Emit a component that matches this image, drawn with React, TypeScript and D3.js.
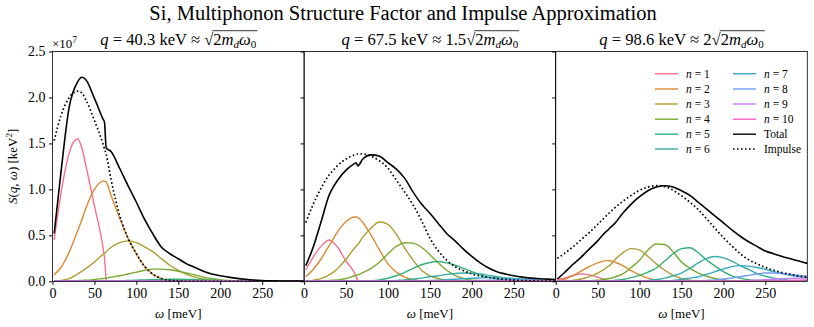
import { useEffect, useRef } from 'react';
import * as d3 from 'd3';

// energy grid (meV) shared by every curve
const OMEGA = [2, 10, 20, 30, 35, 40, 50, 60, 62, 64, 70, 80, 90, 100, 110, 120, 130, 140, 150, 160, 170, 180, 190, 200, 210, 220, 230, 240, 250, 260, 270, 280, 290, 300];
const N = null;

// values in units of 1e7 keV^2
// panel 1: q = 40.3 keV
const p1n1 = [0.45, 0.95, 1.40, 1.55, 1.45, 1.25, 0.82, 0.38, 0.25, 0, N, N, N, N, N, N, N, N, N, N, N, N, N, N, N, N, N, N, N, N, N, N, N, N];
const p1n2 = [0.07, 0.15, 0.32, 0.55, 0.67, 0.80, 1.00, 1.09, 1.09, 1.08, 0.93, 0.69, 0.47, 0.30, 0.16, 0.075, 0.03, 0.01, 0.003, 0, 0, 0, 0, 0, 0, 0, 0, 0, 0, 0, 0, 0, 0, 0];
const p1n3 = [0, 0.01, 0.03, 0.08, 0.11, 0.14, 0.21, 0.29, 0.30, 0.32, 0.37, 0.42, 0.44, 0.42, 0.375, 0.32, 0.245, 0.175, 0.12, 0.075, 0.045, 0.025, 0.012, 0.005, 0.002, 0, 0, 0, 0, 0, 0, 0, 0, 0];
const p1n4 = [0, 0, 0.003, 0.007, 0.01, 0.012, 0.02, 0.03, 0.032, 0.035, 0.045, 0.06, 0.08, 0.10, 0.12, 0.132, 0.133, 0.125, 0.11, 0.09, 0.07, 0.045, 0.03, 0.015, 0.008, 0.004, 0.002, 0, 0, 0, 0, 0, 0, 0];
const p1n5 = [0, 0, 0, 0, 0, 0.001, 0.002, 0.003, 0.003, 0.004, 0.005, 0.007, 0.009, 0.012, 0.015, 0.018, 0.02, 0.022, 0.022, 0.021, 0.019, 0.016, 0.013, 0.01, 0.007, 0.005, 0.003, 0.002, 0.001, 0, 0, 0, 0, 0];
const p1n6 = [0, 0, 0, 0, 0, 0, 0, 0, 0, 0, 0, 0, 0, 0.001, 0.002, 0.003, 0.004, 0.005, 0.006, 0.007, 0.007, 0.007, 0.006, 0.005, 0.004, 0.003, 0.002, 0.002, 0.001, 0.001, 0, 0, 0, 0];
const p1n7 = [0, 0, 0, 0, 0, 0, 0, 0, 0, 0, 0, 0, 0, 0, 0, 0, 0, 0.001, 0.001, 0.002, 0.002, 0.002, 0.002, 0.002, 0.002, 0.001, 0.001, 0.001, 0, 0, 0, 0, 0, 0];
const p1n8 = [0, 0, 0, 0, 0, 0, 0, 0, 0, 0, 0, 0, 0, 0, 0, 0, 0, 0, 0, 0, 0.001, 0.001, 0.001, 0.001, 0.001, 0.001, 0.001, 0, 0, 0, 0, 0, 0, 0];
const p1n9 = [0, 0, 0, 0, 0, 0, 0, 0, 0, 0, 0, 0, 0, 0, 0, 0, 0, 0, 0, 0, 0, 0, 0, 0, 0, 0, 0, 0, 0, 0, 0, 0, 0, 0];
const p1n10 = [0, 0, 0, 0, 0, 0, 0, 0, 0, 0, 0, 0, 0, 0, 0, 0, 0, 0, 0, 0, 0, 0, 0, 0, 0, 0, 0, 0, 0, 0, 0, 0, 0, 0];
const p1Total = [0.52, 1.18, 1.90, 2.17, 2.22, 2.19, 1.99, 1.77, 1.73, 1.45, 1.41, 1.23, 1.04, 0.86, 0.67, 0.51, 0.37, 0.30, 0.245, 0.19, 0.15, 0.11, 0.08, 0.06, 0.045, 0.032, 0.022, 0.014, 0.009, 0.006, 0.004, 0.003, 0.002, 0.001];
const p1Impulse = [1.53, 1.80, 2.00, 2.07, 2.05, 1.97, 1.75, 1.50, 1.44, 1.38, 1.10, 0.72, 0.47, 0.30, 0.16, 0.075, 0.03, 0.01, 0.003, 0, 0, 0, 0, 0, 0, 0, 0, 0, 0, 0, 0, 0, 0, 0];

// panel 2: q = 67.5 keV
const p2n1 = [0.125, 0.25, 0.38, 0.45, 0.42, 0.37, 0.22, 0.09, 0.05, 0, N, N, N, N, N, N, N, N, N, N, N, N, N, N, N, N, N, N, N, N, N, N, N, N];
const p2n2 = [0.05, 0.12, 0.24, 0.39, 0.465, 0.54, 0.65, 0.70, 0.70, 0.695, 0.64, 0.50, 0.34, 0.19, 0.10, 0.045, 0.017, 0.006, 0.002, 0, 0, 0, 0, 0, 0, 0, 0, 0, 0, 0, 0, 0, 0, 0];
const p2n3 = [0, 0.01, 0.03, 0.07, 0.10, 0.14, 0.24, 0.36, 0.38, 0.40, 0.48, 0.58, 0.645, 0.62, 0.51, 0.36, 0.23, 0.12, 0.06, 0.03, 0.012, 0.005, 0.002, 0, 0, 0, 0, 0, 0, 0, 0, 0, 0, 0];
const p2n4 = [0, 0, 0.003, 0.008, 0.012, 0.016, 0.03, 0.06, 0.065, 0.07, 0.095, 0.14, 0.21, 0.30, 0.38, 0.42, 0.415, 0.37, 0.29, 0.2, 0.12, 0.065, 0.03, 0.012, 0.005, 0.002, 0, 0, 0, 0, 0, 0, 0, 0];
const p2n5 = [0, 0, 0, 0, 0, 0, 0, 0.001, 0.001, 0.002, 0.003, 0.007, 0.016, 0.033, 0.06, 0.097, 0.14, 0.18, 0.205, 0.215, 0.20, 0.175, 0.14, 0.105, 0.07, 0.045, 0.025, 0.015, 0.007, 0.003, 0.001, 0, 0, 0];
const p2n6 = [0, 0, 0, 0, 0, 0, 0, 0, 0, 0, 0, 0, 0, 0.005, 0.01, 0.015, 0.025, 0.035, 0.05, 0.06, 0.075, 0.085, 0.09, 0.088, 0.08, 0.065, 0.05, 0.035, 0.022, 0.013, 0.007, 0.004, 0.002, 0.001];
const p2n7 = [0, 0, 0, 0, 0, 0, 0, 0, 0, 0, 0, 0, 0, 0, 0, 0, 0, 0.005, 0.008, 0.012, 0.017, 0.022, 0.028, 0.033, 0.037, 0.04, 0.039, 0.037, 0.032, 0.025, 0.019, 0.013, 0.009, 0.006];
const p2n8 = [0, 0, 0, 0, 0, 0, 0, 0, 0, 0, 0, 0, 0, 0, 0, 0, 0, 0, 0, 0, 0, 0.003, 0.005, 0.007, 0.009, 0.011, 0.013, 0.014, 0.015, 0.015, 0.014, 0.012, 0.01, 0.009];
const p2n9 = [0, 0, 0, 0, 0, 0, 0, 0, 0, 0, 0, 0, 0, 0, 0, 0, 0, 0, 0, 0, 0, 0, 0, 0, 0, 0.001, 0.002, 0.003, 0.004, 0.004, 0.005, 0.005, 0.005, 0.005];
const p2n10 = [0, 0, 0, 0, 0, 0, 0, 0, 0, 0, 0, 0, 0, 0, 0, 0, 0, 0, 0, 0, 0, 0, 0, 0, 0, 0, 0, 0, 0.001, 0.001, 0.001, 0.002, 0.002, 0.002];
const p2Total = [0.17, 0.35, 0.64, 0.94, 1.03, 1.10, 1.21, 1.28, 1.29, 1.255, 1.33, 1.375, 1.36, 1.29, 1.22, 1.12, 0.97, 0.84, 0.74, 0.63, 0.52, 0.44, 0.35, 0.27, 0.20, 0.145, 0.105, 0.08, 0.06, 0.045, 0.035, 0.028, 0.024, 0.02];
const p2Impulse = [0.64, 0.82, 1.01, 1.16, 1.21, 1.26, 1.33, 1.375, 1.38, 1.385, 1.385, 1.36, 1.31, 1.23, 1.10, 0.97, 0.83, 0.66, 0.47, 0.33, 0.23, 0.16, 0.115, 0.08, 0.058, 0.042, 0.03, 0.02, 0.013, 0.008, 0.005, 0.003, 0.002, 0.001];

// panel 3: q = 98.6 keV
const p3n1 = [0.015, 0.035, 0.06, 0.08, 0.078, 0.07, 0.045, 0.015, 0.008, 0, N, N, N, N, N, N, N, N, N, N, N, N, N, N, N, N, N, N, N, N, N, N, N, N];
const p3n2 = [0.005, 0.02, 0.06, 0.11, 0.135, 0.16, 0.2, 0.225, 0.225, 0.224, 0.21, 0.17, 0.115, 0.07, 0.035, 0.015, 0.006, 0.002, 0, 0, 0, 0, 0, 0, 0, 0, 0, 0, 0, 0, 0, 0, 0, 0];
const p3n3 = [0, 0.003, 0.01, 0.025, 0.036, 0.05, 0.09, 0.145, 0.16, 0.17, 0.23, 0.31, 0.355, 0.34, 0.27, 0.19, 0.12, 0.065, 0.03, 0.012, 0.005, 0.002, 0, 0, 0, 0, 0, 0, 0, 0, 0, 0, 0, 0];
const p3n4 = [0, 0, 0, 0.002, 0.003, 0.005, 0.012, 0.025, 0.027, 0.03, 0.045, 0.08, 0.15, 0.23, 0.34, 0.405, 0.40, 0.32, 0.21, 0.14, 0.09, 0.055, 0.03, 0.015, 0.006, 0.002, 0, 0, 0, 0, 0, 0, 0, 0];
const p3n5 = [0, 0, 0, 0, 0, 0, 0.002, 0.004, 0.005, 0.006, 0.01, 0.02, 0.04, 0.065, 0.1, 0.145, 0.22, 0.30, 0.355, 0.365, 0.31, 0.23, 0.165, 0.105, 0.06, 0.035, 0.017, 0.008, 0.003, 0.001, 0, 0, 0, 0];
const p3n6 = [0, 0, 0, 0, 0, 0, 0, 0, 0, 0, 0, 0, 0, 0.005, 0.01, 0.02, 0.035, 0.06, 0.09, 0.14, 0.2, 0.25, 0.27, 0.255, 0.22, 0.17, 0.13, 0.085, 0.055, 0.035, 0.02, 0.01, 0.005, 0.003];
const p3n7 = [0, 0, 0, 0, 0, 0, 0, 0, 0, 0, 0, 0, 0, 0, 0, 0, 0.005, 0.01, 0.02, 0.035, 0.05, 0.075, 0.105, 0.135, 0.16, 0.17, 0.165, 0.15, 0.13, 0.105, 0.085, 0.065, 0.05, 0.04];
const p3n8 = [0, 0, 0, 0, 0, 0, 0, 0, 0, 0, 0, 0, 0, 0, 0, 0, 0, 0, 0, 0, 0.005, 0.01, 0.015, 0.025, 0.035, 0.05, 0.065, 0.08, 0.09, 0.09, 0.085, 0.075, 0.065, 0.055];
const p3n9 = [0, 0, 0, 0, 0, 0, 0, 0, 0, 0, 0, 0, 0, 0, 0, 0, 0, 0, 0, 0, 0, 0, 0, 0, 0.003, 0.005, 0.008, 0.012, 0.017, 0.022, 0.027, 0.032, 0.034, 0.035];
const p3n10 = [0, 0, 0, 0, 0, 0, 0, 0, 0, 0, 0, 0, 0, 0, 0, 0, 0, 0, 0, 0, 0, 0, 0, 0, 0, 0, 0, 0.002, 0.003, 0.005, 0.007, 0.009, 0.012, 0.015];
const p3Total = [0.025, 0.09, 0.18, 0.26, 0.305, 0.35, 0.44, 0.54, 0.555, 0.575, 0.625, 0.74, 0.84, 0.92, 0.985, 1.025, 1.04, 1.025, 0.985, 0.935, 0.86, 0.785, 0.71, 0.635, 0.56, 0.49, 0.43, 0.38, 0.33, 0.30, 0.27, 0.245, 0.22, 0.195];
const p3Impulse = [0.25, 0.30, 0.37, 0.45, 0.49, 0.53, 0.62, 0.71, 0.73, 0.745, 0.795, 0.87, 0.935, 0.99, 1.025, 1.04, 1.03, 0.99, 0.93, 0.86, 0.78, 0.68, 0.575, 0.475, 0.385, 0.30, 0.235, 0.19, 0.15, 0.12, 0.095, 0.075, 0.057, 0.045];

const PANELS = [
  { q: '40.3', factor: '', series: [p1n1, p1n2, p1n3, p1n4, p1n5, p1n6, p1n7, p1n8, p1n9, p1n10], total: p1Total, impulse: p1Impulse },
  { q: '67.5', factor: '1.5', series: [p2n1, p2n2, p2n3, p2n4, p2n5, p2n6, p2n7, p2n8, p2n9, p2n10], total: p2Total, impulse: p2Impulse },
  { q: '98.6', factor: '2', series: [p3n1, p3n2, p3n3, p3n4, p3n5, p3n6, p3n7, p3n8, p3n9, p3n10], total: p3Total, impulse: p3Impulse },
];

const COLORS = ['#f77189', '#dc8932', '#ae9d31', '#77ab31', '#33b07a', '#36ada4', '#38a9c5', '#6e9bf4', '#cc7af4', '#f565cc'];
const X_TICKS = [0, 50, 100, 150, 200, 250];
const Y_TICKS = [0, 0.5, 1.0, 1.5, 2.0, 2.5];

const FONT = 'Liberation Serif, DejaVu Serif, serif';

function App() {
  const ref = useRef<SVGSVGElement>(null);

  useEffect(() => {
    const svg = d3.select(ref.current);
    svg.selectAll('*').remove();

    const left0 = 52.5;
    const pw = 251.6;
    const top = 51.5;
    const bottom = 281.3;

    const y = d3.scaleLinear().domain([0, 2.5]).range([bottom, top]);

    const root = svg.append('g').attr('font-family', FONT);

    root.append('text')
      .attr('x', 403).attr('y', 20)
      .attr('text-anchor', 'middle')
      .attr('font-size', 20.5)
      .text('Si, Multiphonon Structure Factor and Impulse Approximation');

    PANELS.forEach((p, pi) => {
      const left = left0 + pi * pw;
      const x = d3.scaleLinear().domain([0, 300]).range([left, left + pw]);

      const clipId = `clip${pi}`;
      root.append('clipPath').attr('id', clipId)
        .append('rect').attr('x', left).attr('y', top).attr('width', pw).attr('height', bottom - top);

      const g = root.append('g').attr('clip-path', `url(#${clipId})`);
      const line = d3.line<number | null>()
        .defined((d) => d != null)
        .x((d, i) => x(OMEGA[i]))
        .y((d) => y(d as number))
        .curve(d3.curveMonotoneX);

      p.series.forEach((s, i) => {
        g.append('path').attr('d', line(s)).attr('fill', 'none')
          .attr('stroke', COLORS[i]).attr('stroke-width', 1.4);
      });
      g.append('path').attr('d', line(p.total)).attr('fill', 'none')
        .attr('stroke', '#000').attr('stroke-width', 1.6);
      g.append('path').attr('d', line(p.impulse)).attr('fill', 'none')
        .attr('stroke', '#000').attr('stroke-width', 1.7)
        .attr('stroke-dasharray', '1.6,2.4');

      // axes
      const xAxis = root.append('g')
        .attr('transform', `translate(0,${bottom})`)
        .call(d3.axisBottom(x).tickValues(X_TICKS).tickSize(3.5).tickPadding(3.5).tickFormat(d3.format('d')));
      xAxis.select('.domain').remove();
      xAxis.attr('font-family', FONT).attr('font-size', 14);
      xAxis.selectAll('text').attr('fill', '#000');

      const yAxis = root.append('g')
        .attr('transform', `translate(${left},0)`)
        .call(d3.axisLeft(y).tickValues(Y_TICKS).tickSize(3.5).tickPadding(3.5)
          .tickFormat(pi === 0 ? d3.format('.1f') : () => ''));
      yAxis.select('.domain').remove();
      yAxis.attr('font-family', FONT).attr('font-size', 14);
      yAxis.selectAll('text').attr('fill', '#000');

      root.append('rect')
        .attr('x', left).attr('y', top).attr('width', pw).attr('height', bottom - top)
        .attr('fill', 'none').attr('stroke', '#000').attr('stroke-width', 0.8);

      // x label
      const xl = root.append('text')
        .attr('x', left + pw / 2).attr('y', 318)
        .attr('text-anchor', 'middle').attr('font-size', 13);
      xl.append('tspan').attr('font-style', 'italic').text('ω');
      xl.append('tspan').text(' [meV]');

      // panel title with radical
      const cx = left + pw / 2;
      const t = root.append('text')
        .attr('x', cx).attr('y', 45)
        .attr('text-anchor', 'middle').attr('font-size', 16.6);
      t.append('tspan').attr('font-style', 'italic').text('q');
      t.append('tspan').text(` = ${p.q} keV ≈ ${p.factor}√`);
      const radStart = (`q = ${p.q} keV ≈ ${p.factor}√`).length;
      t.append('tspan').text('2');
      t.append('tspan').attr('font-style', 'italic').text('m');
      t.append('tspan').attr('font-style', 'italic').attr('font-size', 11).attr('dy', 3).text('d');
      t.append('tspan').attr('font-style', 'italic').attr('dy', -3).text('ω');
      t.append('tspan').attr('font-size', 11).attr('dy', 3).text('0');
      const node = t.node() as SVGTextElement;
      try {
        const n = node.getNumberOfChars();
        const x0 = node.getStartPositionOfChar(radStart).x;
        const x1 = node.getEndPositionOfChar(n - 1).x;
        root.append('line')
          .attr('x1', x0 - 1).attr('x2', x1 + 1)
          .attr('y1', 45 - 14.3).attr('y2', 45 - 14.3)
          .attr('stroke', '#000').attr('stroke-width', 0.8);
      } catch (e) {
        // measurement not available
      }
    });

    // offset text
    const off = root.append('text').attr('x', 52).attr('y', 48).attr('font-size', 13);
    off.append('tspan').text('×10');
    off.append('tspan').attr('font-size', 9.5).attr('dy', -5).text('7');

    // y label
    const yl = root.append('text')
      .attr('transform', `translate(17,${(top + bottom) / 2}) rotate(-90)`)
      .attr('text-anchor', 'middle').attr('font-size', 13);
    yl.append('tspan').attr('font-style', 'italic').text('S');
    yl.append('tspan').text('(');
    yl.append('tspan').attr('font-style', 'italic').text('q');
    yl.append('tspan').text(', ');
    yl.append('tspan').attr('font-style', 'italic').text('ω');
    yl.append('tspan').text(') [keV');
    yl.append('tspan').attr('font-size', 9).attr('dy', -5).text('2');
    yl.append('tspan').attr('dy', 5).text(']');

    // legend
    const lg = root.append('g').attr('font-size', 11.5);
    const rows = [73.7, 89, 104, 119.2, 134.2, 149];
    const entries = [
      ...COLORS.map((c, i) => ({ color: c, label: `${i + 1}`, dash: '', math: true })),
      { color: '#000', label: 'Total', dash: '', math: false },
      { color: '#000', label: 'Impulse', dash: '1.6,2.4', math: false },
    ];
    entries.forEach((e, i) => {
      const col = i < 6 ? 0 : 1;
      const row = i % 6;
      const lx = col === 0 ? 655 : 733;
      const ly = rows[row];
      lg.append('line').attr('x1', lx).attr('x2', lx + 23).attr('y1', ly).attr('y2', ly)
        .attr('stroke', e.color).attr('stroke-width', e.dash ? 1.7 : 1.4)
        .attr('stroke-dasharray', e.dash || null);
      const tx = lg.append('text').attr('x', lx + 31).attr('y', ly + 3.8);
      if (e.math) {
        tx.append('tspan').attr('font-style', 'italic').text('n');
        tx.append('tspan').text(` = ${e.label}`);
      } else {
        tx.text(e.label);
      }
    });
  }, []);

  return (
    <svg ref={ref} width={814} height={327}
      style={{ position: 'absolute', left: 0, top: 0, background: '#fff' }} />
  );
}

export default App;
